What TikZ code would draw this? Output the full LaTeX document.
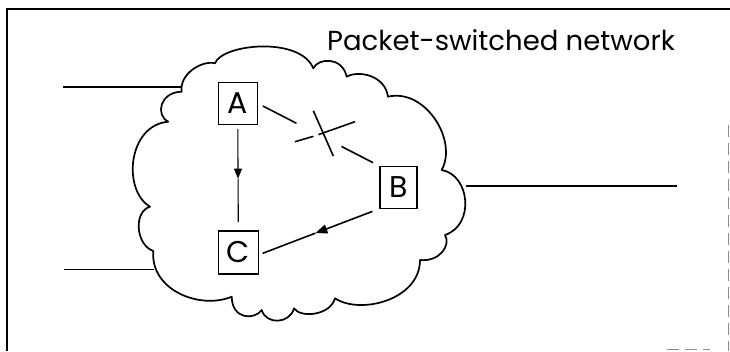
\documentclass[tikz,border=0pt]{standalone}
\usepackage{fontspec}
\setmainfont{Poppins}
\usetikzlibrary{calc,arrows.meta}
\begin{document}
\begin{tikzpicture}[x=1pt,y=-1pt,
  box/.style={draw,line width=1.4pt,minimum width=39pt,minimum height=42pt,inner sep=0pt,font=\fontsize{30}{30}\selectfont},
  link/.style={line width=1.6pt},
  thinlink/.style={line width=1.1pt},
  tip/.style={-{Triangle[length=10pt,width=8pt]}},
  bigtip/.style={-{Triangle[length=12pt,width=9pt]}},
  cloudline/.style={line width=1.7pt,line join=round},
  frameline/.style={line width=2.2pt},
  faint/.style={line width=0.8pt,black!45,dash pattern=on 12pt off 6pt}]
\useasboundingbox (0,0) rectangle (730,351);

% frame
\draw[frameline] (7,351) -- (7,9) -- (730,9);
\draw[faint] (728,125) -- (728,351);
\draw[faint] (667,349) -- (710,349);

% title
\node[anchor=base west,inner sep=0pt,font=\fontsize{27.5}{27.5}\selectfont] (title) at (327,50) {Packet-switched network};

% cloud
\draw[cloudline]
  (181.7,91.7) .. controls (179,74) and (202,60) .. (215,63.3)
  .. controls (222,44) and (300,36) .. (313.3,68.3)
  .. controls (318,58) and (342,56) .. (346.7,76.7)
  .. controls (358,70) and (385,75) .. (388,96.7)
  .. controls (425,88) and (458,140) .. (441.7,170)
  .. controls (470,175) and (475,225) .. (445,235)
  .. controls (451,245) and (440,262) .. (420,260)
  .. controls (420,300) and (360,315) .. (335,298.3)
  .. controls (330,316) and (300,318) .. (294,308.3)
  .. controls (290,324) and (266,325) .. (261.7,310)
  .. controls (255,320) and (232,320) .. (231.7,296.7)
  .. controls (200,310) and (150,290) .. (153.3,251)
  .. controls (136,245) and (133,212) .. (150,206.7)
  .. controls (122,190) and (128,125) .. (168.3,121.7)
  .. controls (155,115) and (160,92) .. (181.7,91.7)
  -- cycle;

% outside lines
\coordinate (tlA) at (63,87);
\coordinate (tlB) at (181,87);
\coordinate (blA) at (64,269.3);
\coordinate (blB) at (154,269.3);
\coordinate (rA) at (466,186);
\coordinate (rB) at (677,186);
\draw[link] (tlA) -- (tlB);
\draw[link] (blA) -- (blB);
\draw[link] (rA) -- (rB);

% nodes
\node[box] (A) at (237.8,103.5) {A};
\node[box,minimum width=37pt] (B) at (398.3,187.5) {B};
\node[box,minimum width=40pt,minimum height=43pt] (C) at (238.3,252.3) {C};

% A -> C (arrowhead mid-line)
\coordinate (ac1) at ($(A.south)+(0,4)$);
\coordinate (acm) at ($(A.south)!0.5!(C.north)+(0,1)$);
\coordinate (ac2) at ($(C.north)+(0,-8)$);
\draw[thinlink,tip] (ac1) -- (acm);
\draw[thinlink] (acm) -- (ac2);

% A -- B broken line
\coordinate (ab1) at ($(A.east)!0.04!(B.north west)$);
\coordinate (ab2) at ($(A.east)!0.317!(B.north west)$);
\coordinate (ab3) at ($(A.east)!0.689!(B.north west)$);
\coordinate (ab4) at ($(A.east)!0.95!(B.north west)$);
\draw[link] (ab1) -- (ab2);
\draw[link] (ab3) -- (ab4);

% cross
\coordinate (x1) at (313.3,110.7);
\coordinate (x2) at (333.3,156);
\coordinate (x3) at (295,141.7);
\coordinate (x4) at (313.5,136.3);
\coordinate (x5) at (318.5,134.6);
\coordinate (x6) at (355,121.7);
\draw[link] (x1) -- (x2);
\draw[link] (x3) -- (x4);
\draw[link] (x5) -- (x6);

% B -> C (arrowhead mid-line)
\coordinate (bc1) at ($(B.south west)+(-6.7,2.2)$);
\coordinate (bc2) at ($(C.east)+(3.7,1)$);
\coordinate (bcm) at ($(bc1)!0.52!(bc2)$);
\draw[link,bigtip] (bc1) -- (bcm);
\draw[link] (bcm) -- (bc2);
\end{tikzpicture}
\end{document}
